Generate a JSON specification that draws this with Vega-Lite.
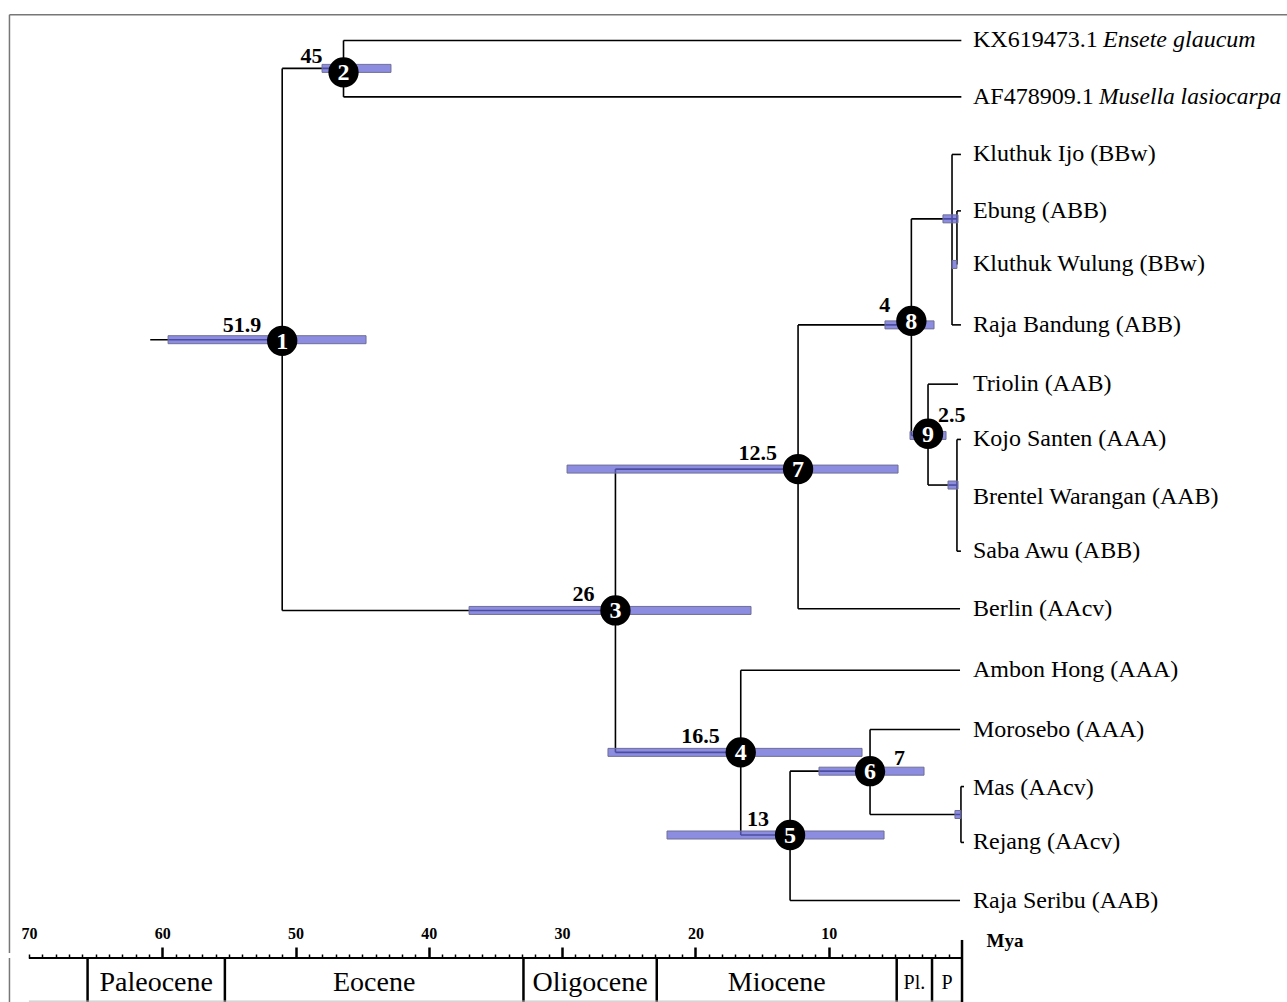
{
  "$schema": "https://vega.github.io/schema/vega-lite/v6.json",
  "padding": 0,
  "autosize": {"type": "pad"},
  "background": "white",
  "bounds": "flush",
  "spacing": 0,
  "config": {"view": {"stroke": null}, "font": "Liberation Serif"},
  "datasets": {
    "one": [{}],
    "edges": [
      {"x1": 60.9, "x2": 51.0, "y1": 5.23, "y2": 5.23},
      {"x1": 51.0, "x2": 51.0, "y1": 0.47, "y2": 9.98},
      {"x1": 51.0, "x2": 46.4, "y1": 0.47, "y2": 0.47},
      {"x1": 51.0, "x2": 26.0, "y1": 9.98, "y2": 9.98},
      {"x1": 46.4, "x2": 46.4, "y1": -0.02, "y2": 0.97},
      {"x1": 46.4, "x2": 0.05, "y1": -0.02, "y2": -0.02},
      {"x1": 46.4, "x2": 0.05, "y1": 0.97, "y2": 0.97},
      {"x1": 26.0, "x2": 26.0, "y1": 7.5, "y2": 12.47},
      {"x1": 26.0, "x2": 12.3, "y1": 7.5, "y2": 7.5},
      {"x1": 26.0, "x2": 16.6, "y1": 12.47, "y2": 12.47},
      {"x1": 12.3, "x2": 12.3, "y1": 4.97, "y2": 9.95},
      {"x1": 12.3, "x2": 3.8, "y1": 4.97, "y2": 4.97},
      {"x1": 12.3, "x2": 0.15, "y1": 9.95, "y2": 9.95},
      {"x1": 3.8, "x2": 3.8, "y1": 3.11, "y2": 6.91},
      {"x1": 3.8, "x2": 0.38, "y1": 3.11, "y2": 3.11},
      {"x1": 3.8, "x2": 2.55, "y1": 6.91, "y2": 6.91},
      {"x1": 0.75, "x2": 0.75, "y1": 1.98, "y2": 4.97},
      {"x1": 0.75, "x2": 0.08, "y1": 1.98, "y2": 1.98},
      {"x1": 0.75, "x2": 0.08, "y1": 4.97, "y2": 4.97},
      {"x1": 0.38, "x2": 0.38, "y1": 2.97, "y2": 3.91},
      {"x1": 0.38, "x2": 0.08, "y1": 2.97, "y2": 2.97},
      {"x1": 2.55, "x2": 2.55, "y1": 6.01, "y2": 7.78},
      {"x1": 2.55, "x2": 0.3, "y1": 6.01, "y2": 6.01},
      {"x1": 2.55, "x2": 0.38, "y1": 7.78, "y2": 7.78},
      {"x1": 0.38, "x2": 0.38, "y1": 6.98, "y2": 8.94},
      {"x1": 0.38, "x2": 0.08, "y1": 6.98, "y2": 6.98},
      {"x1": 0.38, "x2": 0.08, "y1": 8.94, "y2": 8.94},
      {"x1": 16.6, "x2": 16.6, "y1": 11.03, "y2": 13.92},
      {"x1": 16.6, "x2": 0.15, "y1": 11.03, "y2": 11.03},
      {"x1": 16.6, "x2": 12.9, "y1": 13.92, "y2": 13.92},
      {"x1": 12.9, "x2": 12.9, "y1": 12.8, "y2": 15.07},
      {"x1": 12.9, "x2": 6.9, "y1": 12.8, "y2": 12.8},
      {"x1": 12.9, "x2": 0.15, "y1": 15.07, "y2": 15.07},
      {"x1": 6.9, "x2": 6.9, "y1": 12.07, "y2": 13.56},
      {"x1": 6.9, "x2": 0.15, "y1": 12.07, "y2": 12.07},
      {"x1": 6.9, "x2": 0.08, "y1": 13.56, "y2": 13.56},
      {"x1": 0.08, "x2": 0.08, "y1": 13.07, "y2": 14.05},
      {"x1": 0.08, "x2": -0.15, "y1": 13.07, "y2": 13.07},
      {"x1": 0.08, "x2": -0.15, "y1": 14.05, "y2": 14.05}
    ],
    "hpd": [
      {"node": "1", "lo": 59.56, "hi": 44.71, "row": 5.23},
      {"node": "2", "lo": 48.01, "hi": 42.84, "row": 0.47},
      {"node": "3", "lo": 36.98, "hi": 15.83, "row": 9.98},
      {"node": "7", "lo": 29.63, "hi": 4.8, "row": 7.5},
      {"node": "8", "lo": 5.78, "hi": 2.1, "row": 4.97},
      {"node": "9", "lo": 3.9, "hi": 1.2, "row": 6.91},
      {"node": "4", "lo": 26.56, "hi": 7.5, "row": 12.47},
      {"node": "5", "lo": 22.13, "hi": 5.85, "row": 13.92},
      {"node": "6", "lo": 10.73, "hi": 2.85, "row": 12.8},
      {"node": "a", "lo": 1.43, "hi": 0.3, "row": 3.11},
      {"node": "b", "lo": 0.75, "hi": 0.38, "row": 3.91},
      {"node": "c", "lo": 1.05, "hi": 0.3, "row": 7.78},
      {"node": "d", "lo": 0.53, "hi": 0.08, "row": 13.56}
    ],
    "nodes": [
      {"id": 1, "age": "51.9", "mya": 51.0, "row": 5.25},
      {"id": 2, "age": "45", "mya": 46.4, "row": 0.54},
      {"id": 3, "age": "26", "mya": 26.0, "row": 9.98},
      {"id": 4, "age": "16.5", "mya": 16.6, "row": 12.47},
      {"id": 5, "age": "13", "mya": 12.9, "row": 13.92},
      {"id": 6, "age": "7", "mya": 6.9, "row": 12.8},
      {"id": 7, "age": "12.5", "mya": 12.3, "row": 7.5},
      {"id": 8, "age": "4", "mya": 3.8, "row": 4.9},
      {"id": 9, "age": "2.5", "mya": 2.55, "row": 6.88}
    ],
    "tips": [
      {"row": -0.02, "label": "KX619473.1", "species": "Ensete glaucum"},
      {"row": 0.97, "label": "AF478909.1", "species": "Musella lasiocarpa"},
      {"row": 1.98, "label": "Kluthuk Ijo (BBw)"},
      {"row": 2.97, "label": "Ebung (ABB)"},
      {"row": 3.91, "label": "Kluthuk Wulung (BBw)"},
      {"row": 4.97, "label": "Raja Bandung (ABB)"},
      {"row": 6.01, "label": "Triolin (AAB)"},
      {"row": 6.98, "label": "Kojo Santen (AAA)"},
      {"row": 7.99, "label": "Brentel Warangan (AAB)"},
      {"row": 8.94, "label": "Saba Awu (ABB)"},
      {"row": 9.95, "label": "Berlin (AAcv)"},
      {"row": 11.03, "label": "Ambon Hong (AAA)"},
      {"row": 12.07, "label": "Morosebo (AAA)"},
      {"row": 13.1, "label": "Mas (AAcv)"},
      {"row": 14.05, "label": "Rejang (AAcv)"},
      {"row": 15.07, "label": "Raja Seribu (AAB)"}
    ],
    "periods": [
      {"name": "Paleocene", "start": 65.6, "end": 55.3},
      {"name": "Eocene", "start": 55.3, "end": 32.9},
      {"name": "Oligocene", "start": 32.9, "end": 22.9},
      {"name": "Miocene", "start": 22.9, "end": 4.9},
      {"name": "Pl.", "start": 4.9, "end": 2.25},
      {"name": "P", "start": 2.25, "end": 0}
    ]
  },
  "vconcat": [
    {
      "width": 1287,
      "height": 958,
      "layer": [
        {
          "data": {"name": "one"},
          "mark": {"type": "rule", "color": "#777777", "strokeWidth": 1.5},
          "encoding": {
            "x": {"datum": 71.46, "type": "quantitative", "scale": {"domain": [-24.38, 72.17], "reverse": true, "nice": false, "zero": false}, "axis": null},
            "y": {"datum": -0.469, "type": "quantitative", "scale": {"domain": [-0.642, 15.99], "reverse": true, "nice": false, "zero": false}, "axis": null},
            "y2": {"datum": 15.99}
          }
        },
        {
          "data": {"name": "one"},
          "mark": {"type": "rule", "color": "#777777", "strokeWidth": 1.5},
          "encoding": {
            "x": {"datum": 71.46, "type": "quantitative", "scale": {"domain": [-24.38, 72.17], "reverse": true, "nice": false, "zero": false}, "axis": null},
            "x2": {"datum": -24.38},
            "y": {"datum": -0.469, "type": "quantitative", "scale": {"domain": [-0.642, 15.99], "reverse": true, "nice": false, "zero": false}, "axis": null}
          }
        },
        {
          "data": {"name": "edges"},
          "mark": {"type": "rule", "color": "black", "strokeWidth": 1.6},
          "encoding": {
            "x": {"field": "x1", "type": "quantitative", "scale": {"domain": [-24.38, 72.17], "reverse": true, "nice": false, "zero": false}, "axis": null},
            "x2": {"field": "x2"},
            "y": {"field": "y1", "type": "quantitative", "scale": {"domain": [-0.642, 15.99], "reverse": true, "nice": false, "zero": false}, "axis": null},
            "y2": {"field": "y2"}
          }
        },
        {
          "data": {"name": "hpd"},
          "mark": {"type": "bar", "orient": "horizontal", "size": 8, "color": "#6666d7", "fillOpacity": 0.75, "stroke": "#6f6f96", "strokeWidth": 1},
          "encoding": {
            "x": {"field": "lo", "type": "quantitative", "scale": {"domain": [-24.38, 72.17], "reverse": true, "nice": false, "zero": false}, "axis": null},
            "x2": {"field": "hi"},
            "y": {"field": "row", "type": "quantitative", "scale": {"domain": [-0.642, 15.99], "reverse": true, "nice": false, "zero": false}, "axis": null}
          }
        },
        {
          "data": {"name": "nodes"},
          "mark": {"type": "circle", "size": 920, "color": "black", "opacity": 1},
          "encoding": {
            "x": {"field": "mya", "type": "quantitative", "scale": {"domain": [-24.38, 72.17], "reverse": true, "nice": false, "zero": false}, "axis": null},
            "y": {"field": "row", "type": "quantitative", "scale": {"domain": [-0.642, 15.99], "reverse": true, "nice": false, "zero": false}, "axis": null}
          }
        },
        {
          "data": {"name": "nodes"},
          "mark": {"type": "text", "color": "white", "font": "Liberation Serif", "fontWeight": "bold", "fontSize": 24, "align": "center", "baseline": "middle", "dy": 1},
          "encoding": {
            "x": {"field": "mya", "type": "quantitative", "scale": {"domain": [-24.38, 72.17], "reverse": true, "nice": false, "zero": false}, "axis": null},
            "y": {"field": "row", "type": "quantitative", "scale": {"domain": [-0.642, 15.99], "reverse": true, "nice": false, "zero": false}, "axis": null},
            "text": {"field": "id"}
          }
        },
        {
          "data": {"name": "nodes"},
          "transform": [{"filter": "datum.id != 6 && datum.id != 9"}],
          "mark": {"type": "text", "color": "black", "font": "Liberation Serif", "fontWeight": "bold", "fontSize": 22, "align": "right", "baseline": "alphabetic", "dx": -21, "dy": -9},
          "encoding": {
            "x": {"field": "mya", "type": "quantitative", "scale": {"domain": [-24.38, 72.17], "reverse": true, "nice": false, "zero": false}, "axis": null},
            "y": {"field": "row", "type": "quantitative", "scale": {"domain": [-0.642, 15.99], "reverse": true, "nice": false, "zero": false}, "axis": null},
            "text": {"field": "age"}
          }
        },
        {
          "data": {"name": "nodes"},
          "transform": [{"filter": "datum.id == 9"}],
          "mark": {"type": "text", "color": "black", "font": "Liberation Serif", "fontWeight": "bold", "fontSize": 22, "align": "left", "baseline": "alphabetic", "dx": 10, "dy": -12},
          "encoding": {
            "x": {"field": "mya", "type": "quantitative", "scale": {"domain": [-24.38, 72.17], "reverse": true, "nice": false, "zero": false}, "axis": null},
            "y": {"field": "row", "type": "quantitative", "scale": {"domain": [-0.642, 15.99], "reverse": true, "nice": false, "zero": false}, "axis": null},
            "text": {"field": "age"}
          }
        },
        {
          "data": {"name": "nodes"},
          "transform": [{"filter": "datum.id == 6"}],
          "mark": {"type": "text", "color": "black", "font": "Liberation Serif", "fontWeight": "bold", "fontSize": 22, "align": "left", "baseline": "alphabetic", "dx": 24, "dy": -6},
          "encoding": {
            "x": {"field": "mya", "type": "quantitative", "scale": {"domain": [-24.38, 72.17], "reverse": true, "nice": false, "zero": false}, "axis": null},
            "y": {"field": "row", "type": "quantitative", "scale": {"domain": [-0.642, 15.99], "reverse": true, "nice": false, "zero": false}, "axis": null},
            "text": {"field": "age"}
          }
        },
        {
          "data": {"name": "tips"},
          "mark": {"type": "text", "color": "black", "font": "Liberation Serif", "fontSize": 24, "align": "left", "baseline": "middle", "dx": 11},
          "encoding": {
            "x": {"datum": 0, "type": "quantitative", "scale": {"domain": [-24.38, 72.17], "reverse": true, "nice": false, "zero": false}, "axis": null},
            "y": {"field": "row", "type": "quantitative", "scale": {"domain": [-0.642, 15.99], "reverse": true, "nice": false, "zero": false}, "axis": null},
            "text": {"field": "label"}
          }
        },
        {
          "data": {"name": "tips"},
          "transform": [{"filter": "datum.species == 'Ensete glaucum'"}],
          "mark": {"type": "text", "color": "black", "font": "Liberation Serif", "fontStyle": "italic", "fontSize": 24, "align": "left", "baseline": "middle", "dx": 141},
          "encoding": {
            "x": {"datum": 0, "type": "quantitative", "scale": {"domain": [-24.38, 72.17], "reverse": true, "nice": false, "zero": false}, "axis": null},
            "y": {"field": "row", "type": "quantitative", "scale": {"domain": [-0.642, 15.99], "reverse": true, "nice": false, "zero": false}, "axis": null},
            "text": {"field": "species"}
          }
        },
        {
          "data": {"name": "tips"},
          "transform": [{"filter": "datum.species == 'Musella lasiocarpa'"}],
          "mark": {"type": "text", "color": "black", "font": "Liberation Serif", "fontStyle": "italic", "fontSize": 23.5, "align": "left", "baseline": "middle", "dx": 137},
          "encoding": {
            "x": {"datum": 0, "type": "quantitative", "scale": {"domain": [-24.38, 72.17], "reverse": true, "nice": false, "zero": false}, "axis": null},
            "y": {"field": "row", "type": "quantitative", "scale": {"domain": [-0.642, 15.99], "reverse": true, "nice": false, "zero": false}, "axis": null},
            "text": {"field": "species"}
          }
        }
      ]
    },
    {
      "width": 1287,
      "height": 44,
      "resolve": {"axis": {"x": "independent"}},
      "layer": [
        {
          "data": {"name": "periods"},
          "mark": {"type": "rule", "color": "black", "strokeWidth": 2.5},
          "encoding": {
            "x": {
              "field": "start", "type": "quantitative",
              "scale": {"domain": [-24.38, 72.17], "reverse": true, "nice": false, "zero": false},
              "axis": {
                "orient": "top",
                "values": [1,2,3,4,5,6,7,8,9,11,12,13,14,15,16,17,18,19,21,22,23,24,25,26,27,28,29,31,32,33,34,35,36,37,38,39,41,42,43,44,45,46,47,48,49,51,52,53,54,55,56,57,58,59,61,62,63,64,65,66,67,68,69,70],
                "labels": false,
                "tickSize": 4,
                "tickWidth": 1.5,
                "tickColor": "black",
                "domain": false,
                "grid": false,
                "title": null
              }
            },
            "y": {"datum": 0, "type": "quantitative", "scale": {"domain": [0, 1], "nice": false, "zero": false}, "axis": null},
            "y2": {"datum": 1}
          }
        },
        {
          "data": {"name": "one"},
          "mark": {"type": "rule", "color": "#777777", "strokeWidth": 1.5},
          "encoding": {
            "x": {
              "datum": 71.46, "type": "quantitative",
              "scale": {"domain": [-24.38, 72.17], "reverse": true, "nice": false, "zero": false},
              "axis": {
                "orient": "top",
                "values": [10, 20, 30, 40, 50, 60, 70],
                "tickSize": 11,
                "tickWidth": 2.5,
                "tickColor": "black",
                "tickOpacity": {"condition": {"test": "datum.value == 70", "value": 0}, "value": 1},
                "domain": false,
                "grid": false,
                "labelFont": "Liberation Serif",
                "labelFontWeight": "bold",
                "labelFontSize": 16,
                "labelColor": "black",
                "labelPadding": 6,
                "labelFlush": false,
                "labelOverlap": false,
                "title": "Mya",
                "titleFont": "Liberation Serif",
                "titleFontWeight": "bold",
                "titleFontSize": 19,
                "titleColor": "black",
                "titleAngle": 0,
                "titleAlign": "left",
                "titleBaseline": "middle",
                "titleX": 986,
                "titleY": -18
              }
            },
            "y": {"datum": 0, "type": "quantitative", "scale": {"domain": [0, 1], "nice": false, "zero": false}, "axis": null},
            "y2": {"datum": 1}
          }
        },
        {
          "data": {"name": "one"},
          "mark": {"type": "rule", "color": "black", "strokeWidth": 2},
          "encoding": {
            "x": {"datum": 70, "type": "quantitative", "scale": {"domain": [-24.38, 72.17], "reverse": true, "nice": false, "zero": false}, "axis": null},
            "x2": {"datum": 0},
            "y": {"datum": 1, "type": "quantitative", "scale": {"domain": [0, 1], "nice": false, "zero": false}, "axis": null}
          }
        },
        {
          "data": {"name": "one"},
          "mark": {"type": "rule", "color": "#bbbbbb", "strokeWidth": 1},
          "encoding": {
            "x": {"datum": 70, "type": "quantitative", "scale": {"domain": [-24.38, 72.17], "reverse": true, "nice": false, "zero": false}, "axis": null},
            "x2": {"datum": 0},
            "y": {"datum": 0.02, "type": "quantitative", "scale": {"domain": [0, 1], "nice": false, "zero": false}, "axis": null}
          }
        },
        {
          "data": {"name": "one"},
          "mark": {"type": "rule", "color": "black", "strokeWidth": 2.5},
          "encoding": {
            "x": {"datum": 0, "type": "quantitative", "scale": {"domain": [-24.38, 72.17], "reverse": true, "nice": false, "zero": false}, "axis": null},
            "y": {"datum": 0, "type": "quantitative", "scale": {"domain": [0, 1], "nice": false, "zero": false}, "axis": null},
            "y2": {"datum": 1.41}
          }
        },
        {
          "data": {"name": "periods"},
          "transform": [
            {"filter": "length(datum.name) > 3"},
            {"calculate": "(datum.start + datum.end) / 2", "as": "mid"}
          ],
          "mark": {"type": "text", "color": "black", "font": "Liberation Serif", "fontSize": 28, "align": "center", "baseline": "middle"},
          "encoding": {
            "x": {"field": "mid", "type": "quantitative", "scale": {"domain": [-24.38, 72.17], "reverse": true, "nice": false, "zero": false}, "axis": null},
            "y": {"datum": 0.43, "type": "quantitative", "scale": {"domain": [0, 1], "nice": false, "zero": false}, "axis": null},
            "text": {"field": "name"}
          }
        },
        {
          "data": {"name": "periods"},
          "transform": [
            {"filter": "length(datum.name) <= 3"},
            {"calculate": "(datum.start + datum.end) / 2", "as": "mid"}
          ],
          "mark": {"type": "text", "color": "black", "font": "Liberation Serif", "fontSize": 20, "align": "center", "baseline": "middle"},
          "encoding": {
            "x": {"field": "mid", "type": "quantitative", "scale": {"domain": [-24.38, 72.17], "reverse": true, "nice": false, "zero": false}, "axis": null},
            "y": {"datum": 0.43, "type": "quantitative", "scale": {"domain": [0, 1], "nice": false, "zero": false}, "axis": null},
            "text": {"field": "name"}
          }
        }
      ]
    }
  ]
}
